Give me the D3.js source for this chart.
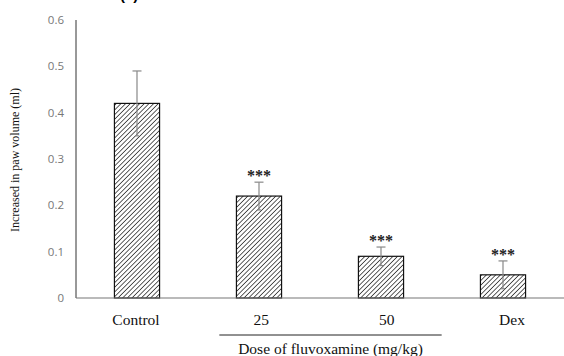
<!DOCTYPE html>
<html>
<head>
<meta charset="utf-8">
<script src="https://cdn.jsdelivr.net/npm/d3@7"></script>
<style>
body { margin: 0; background: #fff; }
svg { display: block; }
</style>
</head>
<body>
<svg id="chart" width="564" height="356"></svg>
<script>
// chart data
var groups = ["Control", "25", "50", "Dex"];
var pawVolume = [0.42, 0.22, 0.09, 0.05];
var pawError = [0.07, 0.03, 0.02, 0.03];
var signif = ["", "***", "***", "***"];
var yTicks = [0, 0.1, 0.2, 0.3, 0.4, 0.5, 0.6];
var doseGroups = ["25", "50"];

var svg = d3.select("#chart");

var y = d3.scaleLinear().domain([0, 0.6]).range([298, 20]);
var x = d3.scaleBand().domain(groups).range([76, 564])
    .paddingInner(0.63).paddingOuter(0.315);
// the category labels sit a bit right of the bars in the original
var xLabel = d3.scalePoint().domain(groups).range([136, 512]);

var rows = groups.map(function(g, i) {
    return {name: g, value: pawVolume[i], err: pawError[i], sig: signif[i]};
});

// hatch pattern
var pat = svg.append("defs").append("pattern")
    .attr("id", "hatch")
    .attr("patternUnits", "userSpaceOnUse")
    .attr("width", 3.3).attr("height", 3.3)
    .attr("patternTransform", "rotate(45)");
pat.append("rect").attr("width", 3.3).attr("height", 3.3).attr("fill", "#fff");
pat.append("line")
    .attr("x1", 0).attr("y1", 0).attr("x2", 0).attr("y2", 3.3)
    .attr("stroke", "#1a1a1a").attr("stroke-width", 1.4);

// cropped heading remnant at the very top
svg.append("text")
    .attr("x", 120).attr("y", 0)
    .attr("font-family", "Liberation Sans, sans-serif")
    .attr("font-weight", "bold").attr("font-size", 15)
    .text("(a)");

// y axis
svg.append("line")
    .attr("x1", 76).attr("x2", 76)
    .attr("y1", y(0.6)).attr("y2", y(0))
    .attr("stroke", "#333").attr("stroke-width", 1);

svg.selectAll(".ytick")
    .data(yTicks)
    .enter()
    .append("text")
    .attr("class", "ytick")
    .attr("x", 64)
    .attr("y", function(d) { return y(d); })
    .attr("dy", "0.35em")
    .attr("text-anchor", "end")
    .attr("font-family", "Open Sans, sans-serif")
    .attr("font-size", 11.5)
    .attr("fill", "#777")
    .text(function(d) { return d === 0 ? "0" : d3.format(".1f")(d); });

svg.append("text")
    .attr("transform", "translate(19,160) rotate(-90)")
    .attr("text-anchor", "middle")
    .attr("font-family", "Liberation Serif, serif")
    .attr("font-size", 12)
    .attr("fill", "#111")
    .text("Increased in paw volume (ml)");

// bars
svg.selectAll(".bar")
    .data(rows)
    .enter()
    .append("rect")
    .attr("class", "bar")
    .attr("x", function(d) { return x(d.name); })
    .attr("width", x.bandwidth())
    .attr("y", function(d) { return y(d.value); })
    .attr("height", function(d) { return y(0) - y(d.value); })
    .attr("fill", "url(#hatch)")
    .attr("stroke", "#111").attr("stroke-width", 1.2);

// error bars
var eb = svg.selectAll(".err")
    .data(rows)
    .enter()
    .append("g")
    .attr("class", "err")
    .attr("stroke", "#888").attr("stroke-width", 1.2);

eb.append("line")
    .attr("x1", function(d) { return x(d.name) + x.bandwidth() / 2; })
    .attr("x2", function(d) { return x(d.name) + x.bandwidth() / 2; })
    .attr("y1", function(d) { return y(d.value + d.err); })
    .attr("y2", function(d) { return y(d.value - d.err); });

eb.append("line")
    .attr("x1", function(d) { return x(d.name) + x.bandwidth() / 2 - 4.5; })
    .attr("x2", function(d) { return x(d.name) + x.bandwidth() / 2 + 4.5; })
    .attr("y1", function(d) { return y(d.value + d.err); })
    .attr("y2", function(d) { return y(d.value + d.err); });

eb.append("line")
    .attr("x1", function(d) { return x(d.name) + x.bandwidth() / 2 - 2; })
    .attr("x2", function(d) { return x(d.name) + x.bandwidth() / 2 + 2; })
    .attr("y1", function(d) { return y(d.value - d.err); })
    .attr("y2", function(d) { return y(d.value - d.err); });

// significance stars
svg.selectAll(".sig")
    .data(rows.filter(function(d) { return d.sig; }))
    .enter()
    .append("text")
    .attr("class", "sig")
    .attr("x", function(d) { return x(d.name) + x.bandwidth() / 2; })
    .attr("y", function(d) { return y(d.value + d.err) - 1; })
    .attr("text-anchor", "middle")
    .attr("font-family", "Liberation Serif, serif")
    .attr("font-weight", "bold")
    .attr("font-size", 16)
    .attr("fill", "#222")
    .text(function(d) { return d.sig; });

// x axis
svg.append("line")
    .attr("x1", 76).attr("x2", 564)
    .attr("y1", y(0)).attr("y2", y(0))
    .attr("stroke", "#777").attr("stroke-width", 1.2);

svg.selectAll(".xlab")
    .data(groups)
    .enter()
    .append("text")
    .attr("class", "xlab")
    .attr("x", function(d) { return xLabel(d); })
    .attr("y", 325)
    .attr("text-anchor", "middle")
    .attr("font-family", "Liberation Serif, serif")
    .attr("font-size", 15.5)
    .attr("fill", "#111")
    .text(function(d) { return d; });

// bracket under the fluvoxamine doses
var x0 = xLabel(doseGroups[0]) - 42, x1 = xLabel(doseGroups[1]) + 55;
svg.append("line")
    .attr("x1", x0).attr("x2", x1)
    .attr("y1", 335).attr("y2", 335)
    .attr("stroke", "#222").attr("stroke-width", 1);

svg.append("text")
    .attr("x", (x0 + x1) / 2)
    .attr("y", 354)
    .attr("text-anchor", "middle")
    .attr("font-family", "Liberation Serif, serif")
    .attr("font-size", 15.5)
    .attr("fill", "#111")
    .text("Dose of fluvoxamine  (mg/kg)");
</script>
</body>
</html>
